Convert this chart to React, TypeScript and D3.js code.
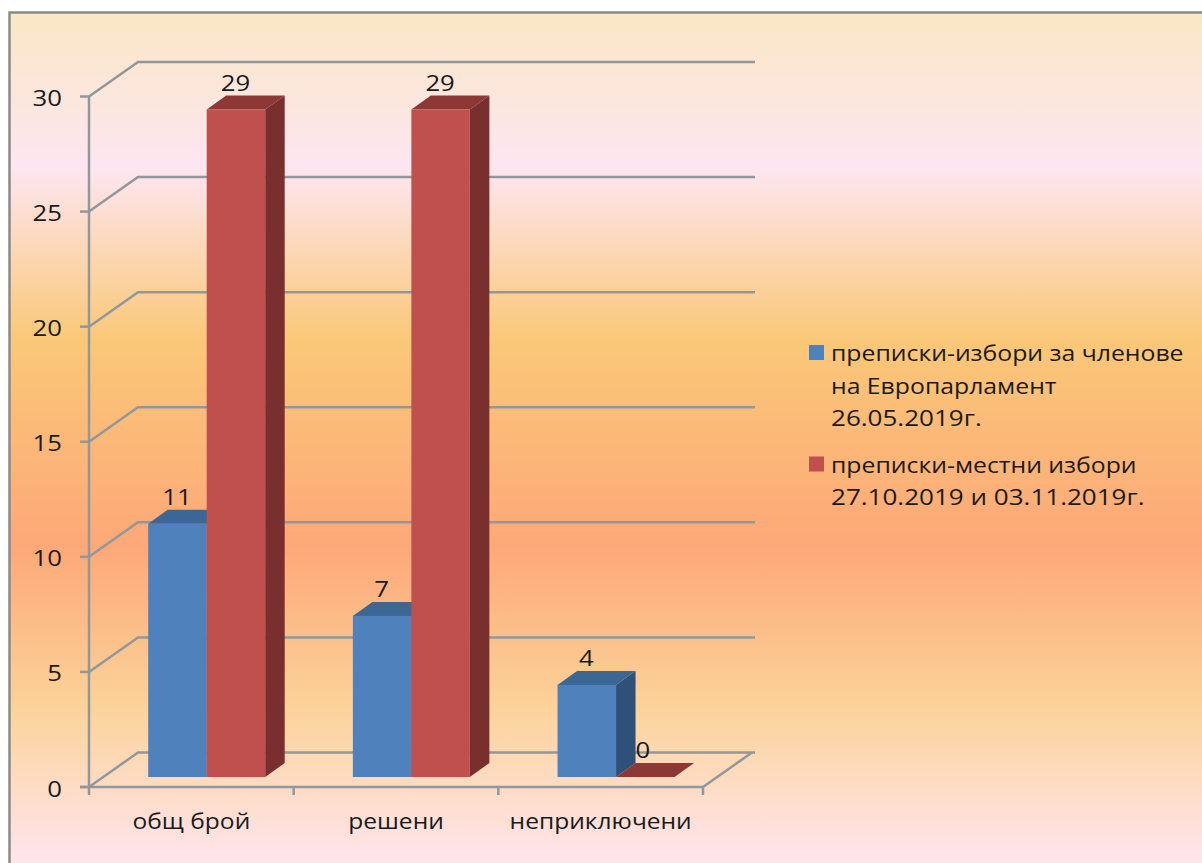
import React from 'react';
import * as d3 from 'd3';

const categories = ['общ брой', 'решени', 'неприключени'];
const europarliament = [11, 7, 4];
const localElections = [29, 29, 0];
const yTicks = [0, 5, 10, 15, 20, 25, 30];

const seriesColors = [
  { front: '#4f81bd', top: '#3c6794', side: '#2f5079' },
  { front: '#c0504d', top: '#8d3836', side: '#7a2f2f' },
];

const legendEntries = [
  { lines: ['преписки-избори за членове', 'на Европарламент', '26.05.2019г.'], color: '#4f81bd' },
  { lines: ['преписки-местни избори', '27.10.2019 и 03.11.2019г.'], color: '#c0504d' },
];

const bgStops: [number, string][] = [
  [0, '#fae7c5'],
  [0.18, '#fde6f1'],
  [0.38, '#fac878'],
  [0.62, '#fda878'],
  [0.81, '#fbd39a'],
  [0.98, '#ffe4ea'],
];

const FONT = '"Open Sans", sans-serif';
const TEXT = '#1a1a1a';
const GRID = '#91979a';

// the source picture was stretched sideways, so the text is too
const Label = ({ x, y, size, anchor, sx = 1.17, children }: any) => (
  <text
    transform={`translate(${x},${y}) scale(${sx},1)`}
    textAnchor={anchor}
    fontSize={size}
    fontFamily={FONT}
    fill={TEXT}
  >
    {children}
  </text>
);

const App = () => {
  // floor depth of the 3d box
  const depthX = 49;
  const depthY = -34.5;
  const barDepthX = 19.5;
  const barDepthY = -14;

  const y = d3.scaleLinear().domain([0, 30]).range([787, 96.5]);
  const barY = d3.scaleLinear().domain([0, 30]).range([777, 86.5]);
  const x = d3.scaleBand<string>().domain(categories).range([89, 703]);
  const barWidth = 58.5;
  const barLeft = (cat: string) => x(cat)! + 59.2;

  const allTicks = [89, ...categories.map((c) => x(c)! + x.bandwidth())];

  const drawBar = (cat: string, value: number, s: number) => {
    const x0 = barLeft(cat) + s * barWidth;
    const x1 = x0 + barWidth;
    const top = barY(value);
    const base = barY(0);
    const c = seriesColors[s];
    const topPath = d3.path();
    topPath.moveTo(x0, top);
    topPath.lineTo(x0 + barDepthX, top + barDepthY);
    topPath.lineTo(x1 + barDepthX, top + barDepthY);
    topPath.lineTo(x1, top);
    topPath.closePath();
    const sidePath = d3.path();
    sidePath.moveTo(x1, top);
    sidePath.lineTo(x1 + barDepthX, top + barDepthY);
    sidePath.lineTo(x1 + barDepthX, base + barDepthY);
    sidePath.lineTo(x1, base);
    sidePath.closePath();
    return (
      <g key={cat + s}>
        <path d={sidePath.toString()} fill={c.side} />
        <path d={topPath.toString()} fill={c.top} />
        <rect x={x0} y={top} width={barWidth} height={base - top} fill={c.front} />
      </g>
    );
  };

  const drawLabel = (cat: string, value: number, s: number) => (
    <Label
      key={cat + s}
      x={barLeft(cat) + (s + 0.5) * barWidth - (value === 0 ? 2.5 : 0.5)}
      y={barY(value) - 19}
      size={22}
      anchor="middle"
    >
      {value}
    </Label>
  );

  let legendY = 361;

  return (
    <svg
      width={1202}
      height={863}
      style={{ position: 'fixed', left: 0, top: 0, background: '#fff' }}
    >
      <defs>
        <linearGradient id="bg" x1="0" y1="0" x2="0" y2="1">
          {bgStops.map(([o, col]) => (
            <stop key={o} offset={o} stopColor={col} />
          ))}
        </linearGradient>
      </defs>
      <rect x={9.5} y={12.5} width={1200} height={860} fill="url(#bg)" stroke="#8a8a8a" strokeWidth={2.5} />

      {/* back wall gridlines and side wall */}
      {yTicks.map((t) => (
        <g key={t} fill="none" stroke={GRID} strokeWidth={2.5}>
          <path d={`M89,${y(t)}L${89 + depthX},${y(t) + depthY}L${703 + depthX + 3},${y(t) + depthY}`} />
          <line x1={80} x2={89} y1={y(t)} y2={y(t)} />
        </g>
      ))}
      <path d={`M703,787L${703 + depthX},${787 + depthY}`} fill="none" stroke={GRID} strokeWidth={2.5} />
      <line x1={89} x2={89} y1={y(30)} y2={y(0)} stroke={GRID} strokeWidth={2.5} />
      <line x1={80} x2={703} y1={y(0)} y2={y(0)} stroke={GRID} strokeWidth={2.5} />
      {allTicks.map((t) => (
        <line key={t} x1={t} x2={t} y1={787} y2={795} stroke={GRID} strokeWidth={2.5} />
      ))}

      {categories.map((c, i) => drawBar(c, europarliament[i], 0))}
      {categories.map((c, i) => drawBar(c, localElections[i], 1))}
      {categories.map((c, i) => drawLabel(c, europarliament[i], 0))}
      {categories.map((c, i) => drawLabel(c, localElections[i], 1))}

      {yTicks.map((t) => (
        <Label key={t} x={62} y={y(t) + 9.5} size={22} anchor="end">
          {t}
        </Label>
      ))}
      {categories.map((c) => (
        <Label key={c} x={x(c)! + x.bandwidth() / 2} y={829} size={21} anchor="middle">
          {c}
        </Label>
      ))}

      {legendEntries.map((entry) => {
        const startY = legendY;
        legendY += entry.lines.length * 32.5 + 14;
        return (
          <g key={entry.lines[0]}>
            <rect x={809} y={startY - 16} width={15} height={15} fill={entry.color} />
            {entry.lines.map((line, i) => (
              <Label
                key={line}
                x={831}
                y={startY + i * 32.5}
                size={21}
                anchor="start"
                sx={/\d/.test(line) ? 1.24 : 1.18}
              >
                {line}
              </Label>
            ))}
          </g>
        );
      })}
    </svg>
  );
};

export default App;
